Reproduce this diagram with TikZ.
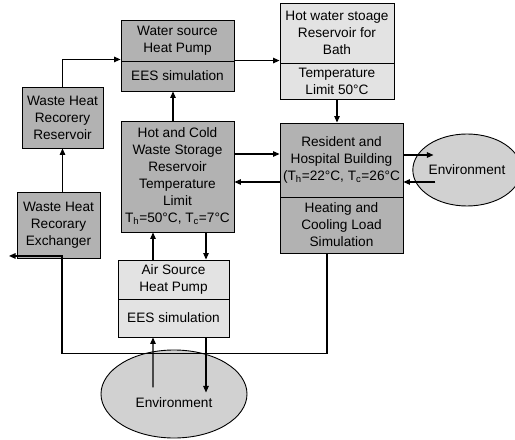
\documentclass[tikz,border=0pt]{standalone}
\usepackage{fontspec}
\setmainfont{Liberation Sans}
\usetikzlibrary{arrows.meta,shapes.geometric}
\definecolor{boxdark}{gray}{0.70}
\definecolor{boxlight}{gray}{0.89}
\definecolor{envgray}{gray}{0.82}
\begin{document}
\begin{tikzpicture}[x=1bp,y=-1bp,
  every node/.style={font=\fontsize{13.7}{17}\selectfont, align=center, inner sep=0pt},
  darkbox/.style={draw, line width=0.9bp, fill=boxdark, rectangle},
  lightbox/.style={draw, line width=0.9bp, fill=boxlight, rectangle},
  envshape/.style={draw, line width=0.9bp, fill=envgray, ellipse},
  arr/.style={-{Triangle[length=6.5bp,width=5.5bp]}, line width=1.1bp}]
\useasboundingbox (0,0) rectangle (515,440);

% boxes
\node[darkbox, minimum width=113bp, minimum height=41bp] (wshp) at (177.5,40.5) {Water source\\Heat Pump};
\node[darkbox, minimum width=113bp, minimum height=30bp] (wshpb) at (177.5,76) {EES simulation};
\node[lightbox, minimum width=114bp, minimum height=60bp] (hws) at (337,33) {Hot water stoage\\Reservoir for\\Bath};
\node[lightbox, minimum width=114bp, minimum height=36bp] (hwsb) at (337,81) {Temperature\\Limit 50°C};
\node[darkbox, minimum width=81bp, minimum height=61bp] (whrr) at (62.5,117.5) {Waste Heat\\Recorery\\Reservoir};
\node[darkbox, minimum width=113bp, minimum height=111bp] (hc) at (177.5,176.5) {Hot and Cold\\Waste Storage\\Reservoir\\Temperature\\Limit\\T\textsubscript{h}=50°C, T\textsubscript{c}=7°C};
\node[darkbox, minimum width=123bp, minimum height=74bp] (res) at (341.5,160) {Resident and\\Hospital Building\\(T\textsubscript{h}=22°C, T\textsubscript{c}=26°C};
\node[darkbox, minimum width=123bp, minimum height=56bp] (resb) at (341.5,225) {Heating and\\Cooling Load\\Simulation};
\node[envshape, minimum width=92bp, minimum height=72bp] (envr) at (467,170) {Environment};
\node[darkbox, minimum width=83bp, minimum height=66bp] (whre) at (58.5,225.5) {Waste Heat\\Recorary\\Exchanger};
\node[lightbox, minimum width=111bp, minimum height=39bp] (ashp) at (173.5,279.5) {Air Source\\Heat Pump};
\node[lightbox, minimum width=111bp, minimum height=38bp] (ashpb) at (173.5,318) {EES simulation};
\node[envshape, minimum width=146bp, minimum height=88bp] (envb) at (174,394) {};
\node (envbt) at (174,403) {Environment};

% connectors
\draw[arr] (whrr.north) |- ([yshift=2bp]wshp.south west);
\draw[arr] ([xshift=-4.5bp]hc.north) -- ([xshift=-4.5bp]wshpb.south);
\draw[arr] (wshpb.north east) -- (wshpb.north east -| hwsb.west);
\draw[arr] (hwsb.south) -- (hwsb.south |- res.north);
\draw[arr] ([yshift=22.5bp]hc.east) -- ([yshift=22.5bp]hc.east -| res.west);
\draw[arr] ([yshift=-5.5bp]hc.east -| res.west) -- ([yshift=-5.5bp]hc.east);
\draw[arr] ([yshift=5bp]res.east) -- ++(30,0);
\draw[arr] ([shift={(32,22)}]res.east) -- ([shift={(0,22)}]res.east);
\draw[arr] (whre.north -| whrr.south) -- (whrr.south);
\draw[arr] ([xshift=-20.5bp]ashp.north) -- ([xshift=-20.5bp]ashp.north |- hc.south);
\draw[arr] ([xshift=32.5bp]ashp.north |- hc.south) -- ([xshift=32.5bp]ashp.north);
\draw[arr] ([shift={(-20.5,50)}]ashpb.south) -- ([xshift=-20.5bp]ashpb.south);
\draw[arr] ([xshift=32.5bp]ashpb.south) -- ++(0,55);
\draw[arr] ([xshift=-14.5bp]resb.south) -- ++(0,100) -| ([shift={(3.5,-3)}]whre.south) -- ++(-53,0);
\end{tikzpicture}
\end{document}
